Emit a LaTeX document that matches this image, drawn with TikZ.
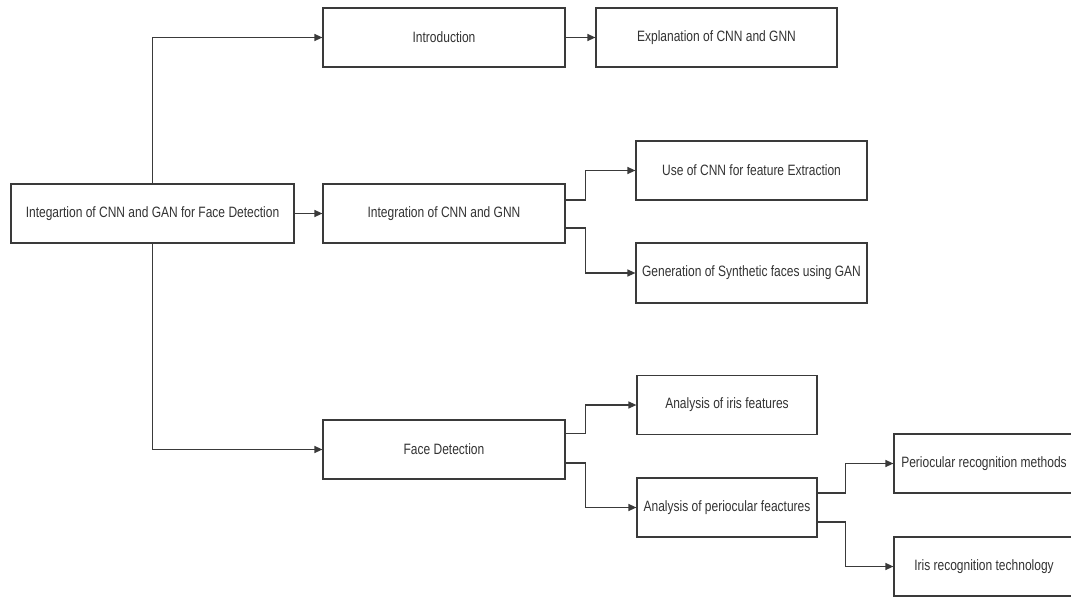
\documentclass[tikz,border=0pt]{standalone}
\usepackage{fontspec}
\setmainfont{Liberation Sans}[FakeStretch=0.8]
\usetikzlibrary{arrows.meta}
\definecolor{linec}{HTML}{3A3A3A}
\definecolor{textc}{HTML}{333333}
\tikzset{
  box/.style={draw=linec, line width=1.2pt, fill=white, rectangle, inner sep=0pt,
    align=center, text=textc, font=\fontsize{15}{17}\selectfont},
  conn/.style={draw=linec, line width=1.2pt, -{Triangle[length=8pt,width=7pt]}},
}
\begin{document}
\begin{tikzpicture}[x=1pt,y=-1pt]
\useasboundingbox (0,0) rectangle (1071,597);
\clip (0,0) rectangle (1071,597);
\node[box, minimum width=283pt, minimum height=59pt] (root) at (152.5,213.5) {Integartion of CNN and GAN for Face Detection};
\node[box, minimum width=242pt, minimum height=59pt] (intro) at (444,37.5) {Introduction};
\node[box, minimum width=241pt, minimum height=59pt] (expl) at (716.5,37.5) {Explanation of CNN and GNN};
\node[box, minimum width=242pt, minimum height=59pt] (integ) at (444,213.5) {Integration of CNN and GNN};
\node[box, minimum width=231pt, minimum height=59pt] (use) at (751.5,170.5) {Use of CNN for feature Extraction};
\node[box, minimum width=231pt, minimum height=60pt] (gen) at (751.5,273) {Generation of Synthetic faces using GAN};
\node[box, minimum width=242pt, minimum height=59pt] (face) at (444,449.5) {Face Detection};
\node[box, minimum width=180pt, minimum height=59pt] (iris) at (727,405) {Analysis of iris features};
\node[box, minimum width=180pt, minimum height=59pt] (peri) at (727,507.5) {Analysis of periocular feactures};
\node[box, minimum width=180pt, minimum height=59pt] (permeth) at (984,463.5) {Periocular recognition methods};
\node[box, minimum width=180pt, minimum height=59pt] (iristech) at (984,566.5) {Iris recognition technology};

\draw[conn] (root.north) |- (intro.west);
\draw[conn] (root.east) -- (integ.west);
\draw[conn] (root.south) |- (face.west);
\draw[conn] (intro.east) -- (expl.west);
\draw[conn] ([yshift=13.5pt]integ.east) -- ++(20,0) |- (use.west);
\draw[conn] ([yshift=-14.5pt]integ.east) -- ++(20,0) |- (gen.west);
\draw[conn] ([yshift=16pt]face.east) -- ++(20,0) |- (iris.west);
\draw[conn] ([yshift=-13.5pt]face.east) -- ++(20,0) |- (peri.west);
\draw[conn] ([yshift=14.5pt]peri.east) -- ++(28,0) |- (permeth.west);
\draw[conn] ([yshift=-14.5pt]peri.east) -- ++(28,0) |- (iristech.west);
\end{tikzpicture}
\end{document}
